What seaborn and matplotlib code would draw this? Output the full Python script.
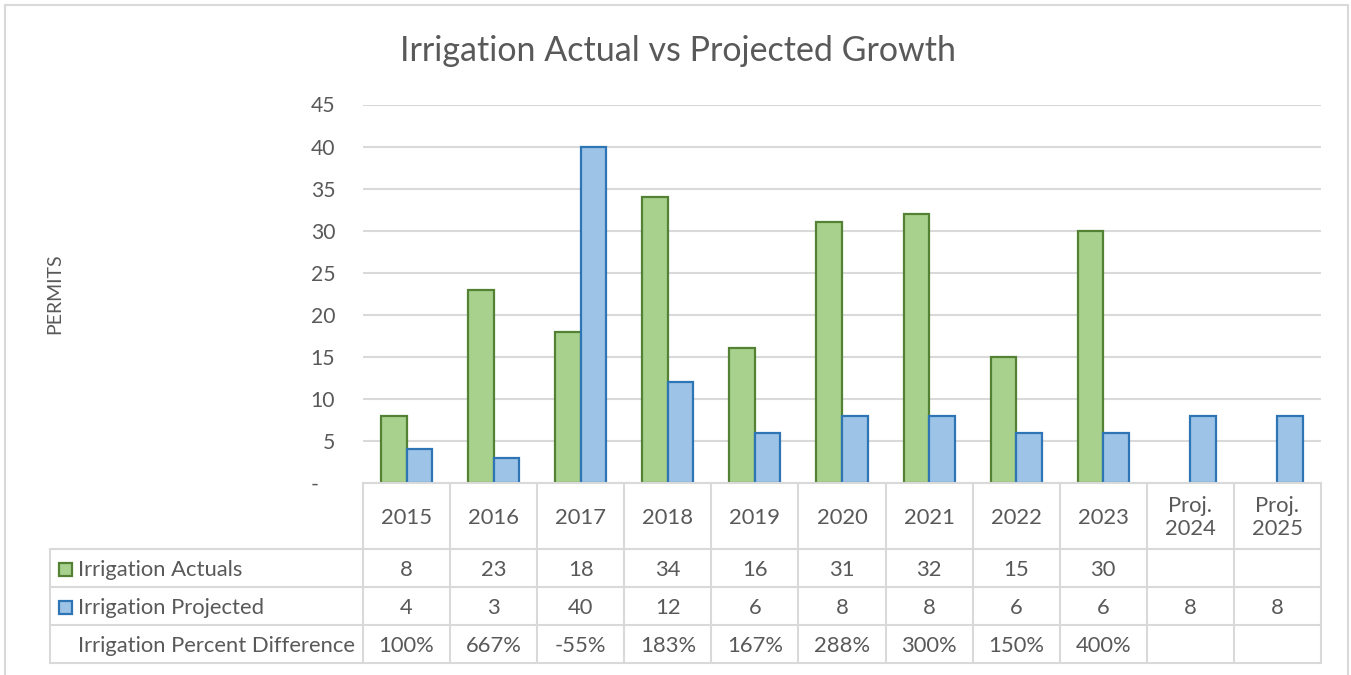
import numpy as np
import pandas as pd
import matplotlib
matplotlib.use("Agg")
import matplotlib.pyplot as plt
import seaborn as sns
from matplotlib.lines import Line2D
from matplotlib.patches import Rectangle

# ---------------- data ----------------
categories = ["2015", "2016", "2017", "2018", "2019", "2020", "2021", "2022", "2023",
              "Proj.\n2024", "Proj.\n2025"]
actuals = [8, 23, 18, 34, 16, 31, 32, 15, 30, None, None]
projected = [4, 3, 40, 12, 6, 8, 8, 6, 6, 8, 8]
percent_diff = ["100%", "667%", "-55%", "183%", "167%", "288%", "300%", "150%", "400%", "", ""]
series_names = ["Irrigation Actuals", "Irrigation Projected"]
diff_name = "Irrigation Percent Difference"
yticks = [0, 5, 10, 15, 20, 25, 30, 35, 40, 45]
ytick_labels = ["-   ", "5", "10", "15", "20", "25", "30", "35", "40", "45"]
title = "Irrigation Actual vs Projected Growth"
ylabel = "PERMITS"

# ---------------- style ----------------
fills = ["#A9D18E", "#9DC3E6"]
edges = ["#548235", "#2E75B6"]
text_c = "#595959"
grid_c = "#D9D9D9"
fs = 15.8

W, H = 1351, 675
sns.set_theme(style="white")
plt.rcParams['font.family'] = ['Lato', 'DejaVu Sans']

fig = plt.figure(figsize=(W / 100, H / 100), dpi=100)


def fx(px):
    return px / W


def fy(py):
    return 1 - py / H


ax = fig.add_axes([fx(363), fy(483), fx(1321) - fx(363), fy(104.5) - fy(483)])

df = pd.DataFrame({
    "Year": categories * 2,
    "Series": [series_names[0]] * len(categories) + [series_names[1]] * len(categories),
    "Permits": actuals + projected,
})
df["Permits"] = df["Permits"].astype(float)

sns.barplot(data=df, x="Year", y="Permits", hue="Series", order=categories,
            hue_order=series_names, palette=fills, width=0.586, gap=0,
            saturation=1, errorbar=None, legend=False, ax=ax, zorder=3)
for cont, ec in zip(ax.containers, edges):
    for bar in cont:
        bar.set_edgecolor(ec)
        bar.set_linewidth(1.6)

ax.set_xlim(-0.5, len(categories) - 0.5)
ax.set_ylim(0, 45)
ax.set_yticks(yticks)
ax.set_yticklabels(ytick_labels)
ax.set_xticks([])
ax.set_xlabel("")
ax.set_ylabel("")
ax.yaxis.grid(True, color=grid_c, linewidth=1.5)
ax.set_axisbelow(True)
for s in ax.spines.values():
    s.set_visible(False)
ax.tick_params(axis="y", length=0, pad=20, labelsize=15.2, labelcolor=text_c)

# title and y label
fig.text(fx(678), fy(51), title, ha="center", va="center", fontsize=24.5, color=text_c)
fig.text(fx(55), fy(294), ylabel, ha="center", va="center", rotation=90,
         fontsize=14, color=text_c)

# ---------------- data table ----------------
pos = ax.get_position()
x0, x1 = pos.x0, pos.x1
n = len(categories)
colw = (x1 - x0) / n
table_left = fx(50)
y_head_top = fy(483)
row_edges = [fy(549), fy(587), fy(625), fy(663)]
lw_t = 1.5
dy = 1.5 / H  # small downward nudge of text


def hline(xa, xb, y):
    fig.add_artist(Line2D([xa, xb], [y, y], transform=fig.transFigure,
                          color=grid_c, linewidth=lw_t, zorder=1))


def vline(x, ya, yb):
    fig.add_artist(Line2D([x, x], [ya, yb], transform=fig.transFigure,
                          color=grid_c, linewidth=lw_t, zorder=1))


hline(x0, x1, y_head_top)
for y in row_edges:
    hline(table_left, x1, y)
for i in range(n + 1):
    vline(x0 + i * colw, y_head_top, row_edges[-1])
vline(table_left, row_edges[0], row_edges[-1])

# header
for i, c in enumerate(categories):
    fig.text(x0 + (i + 0.5) * colw, (y_head_top + row_edges[0]) / 2 - dy, c,
             ha="center", va="center", fontsize=fs, color=text_c, linespacing=1.2)

rows = [
    [("" if v is None else str(v)) for v in actuals],
    [("" if v is None else str(v)) for v in projected],
    percent_diff,
]
row_names = series_names + [diff_name]
for r, (vals, name) in enumerate(zip(rows, row_names)):
    yc = (row_edges[r] + row_edges[r + 1]) / 2 - dy
    for i, v in enumerate(vals):
        fig.text(x0 + (i + 0.5) * colw, yc, v, ha="center", va="center",
                 fontsize=fs, color=text_c)
    fig.text(fx(78), yc, name, ha="left", va="center", fontsize=fs, color=text_c)
    if r < 2:
        fig.add_artist(Rectangle((fx(59), yc - 6.5 / H), 13 / W, 13 / H,
                                 transform=fig.transFigure, facecolor=fills[r],
                                 edgecolor=edges[r], linewidth=1.6))

# outer chart border
fig.add_artist(Rectangle((fx(4.5), fy(690)), fx(1348) - fx(4.5), fy(5) - fy(690),
                         transform=fig.transFigure, facecolor="none",
                         edgecolor=grid_c, linewidth=1.5))

fig.savefig("out.png", dpi=100)
